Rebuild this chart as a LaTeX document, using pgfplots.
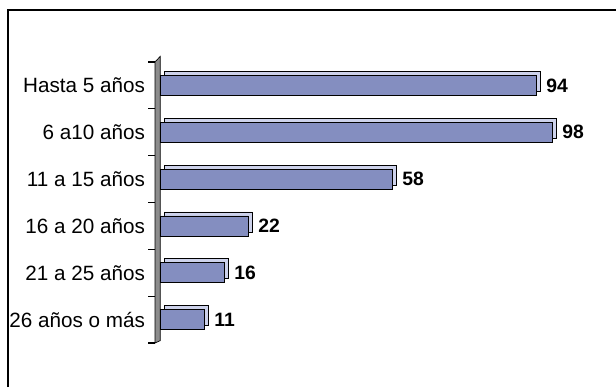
\documentclass[border=0pt]{standalone}
\usepackage{fontspec}
\setmainfont{Liberation Sans}
\usepackage{pgfplots}
\pgfplotsset{compat=1.18}
\definecolor{barfront}{RGB}{132,142,192}
\definecolor{bartop}{RGB}{205,210,235}
\definecolor{wallgray}{RGB}{140,140,140}
\begin{document}
\begin{tikzpicture}
\useasboundingbox (0,0) rectangle (462pt,290.25pt);
\draw[line width=1.1pt] (6pt,0) -- (6pt,282.75pt) -- (462pt,282.75pt);
\begin{axis}[
  at={(116.25pt,33pt)}, anchor=south west,
  scale only axis, width=333.9pt, height=210.75pt,
  xmin=-1.3, xmax=110, ymin=-0.5, ymax=5.5,
  y dir=reverse,
  axis x line=none,
  axis y line*=left,
  y axis line style={draw=none},
  ytick={0,1,2,3,4,5},
  yticklabels={Hasta 5 años,6 a10 años,11 a 15 años,16 a 20 años,21 a 25 años,26 años o más},
  major tick length=0pt,
  minor ytick={-0.5,0.5,1.5,2.5,3.5,4.5,5.5},
  minor tick length=5pt,
  tick align=outside,
  minor tick style={black, line width=0.8pt},
  yticklabel style={font=\fontsize{15.5}{16}\selectfont, xshift=-4pt},
  /pgf/number format/assume math mode=true,
  clip=false,
  bar width=15pt,
]
\fill[wallgray, draw=black, line width=0.5pt] (axis cs:-1.3,5.5) -- (axis cs:-1.3,-0.5) -- (axis cs:0,-0.62) -- (axis cs:0,5.45) -- cycle;
\addplot[xbar, fill=bartop, draw=black, line width=0.6pt, xshift=3pt, yshift=3pt, forget plot]
  coordinates {(94,0) (98,1) (58,2) (22,3) (16,4) (11,5)};
\addplot[xbar, fill=barfront, draw=black, line width=0.6pt,
  nodes near coords={\textbf{\pgfmathprintnumber\pgfplotspointmeta}},
  nodes near coords align=horizontal,
  every node near coord/.append style={font=\fontsize{14.5}{15}\selectfont, xshift=4pt, black}]
  coordinates {(94,0) (98,1) (58,2) (22,3) (16,4) (11,5)};
\end{axis}
\end{tikzpicture}
\end{document}
